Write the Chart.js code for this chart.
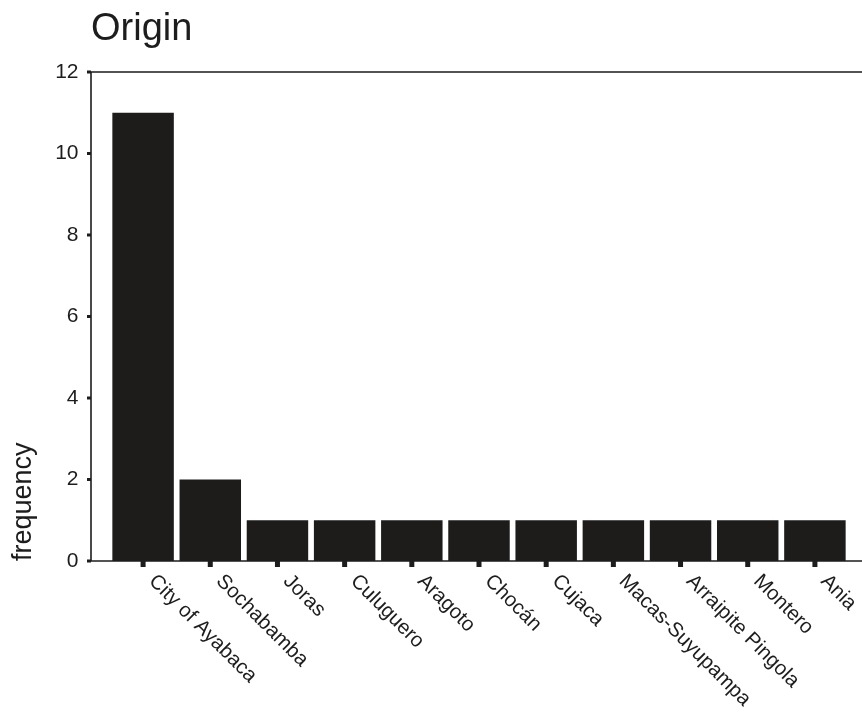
<!DOCTYPE html>
<html>
<head>
<meta charset="utf-8">
<script src="https://cdn.jsdelivr.net/npm/chart.js@4"></script>
<style>
  body { margin: 0; background: #fff; }
</style>
</head>
<body>
<canvas id="myChart" width="862" height="718"></canvas>
<script>
// Data
const places = ['City of Ayabaca', 'Sochabamba', 'Joras', 'Culuguero', 'Aragoto', 'Chocán',
                'Cujaca', 'Macas-Suyupampa', 'Arraipite Pingola', 'Montero', 'Ania'];
const frequency = [11, 2, 1, 1, 1, 1, 1, 1, 1, 1, 1];
const yTicks = [0, 2, 4, 6, 8, 10, 12];

const ink = '#1d1d1d';
const fontName = '"Liberation Sans", Arial, sans-serif';

// Axis lines, tick marks and slanted category labels
const axisDecor = {
    id: 'axisDecor',
    afterLayout(chart) {
        // title sits over the y axis, not at the canvas edge
        chart.titleBlock.left = 91;
    },
    afterDraw(chart) {
        const ctx = chart.ctx;
        const x = chart.scales.x;
        const y = chart.scales.y;
        const axisX = 91;
        const bottom = y.getPixelForValue(0);
        const top = y.getPixelForValue(12);

        ctx.save();
        ctx.strokeStyle = ink;
        ctx.fillStyle = ink;
        ctx.lineWidth = 1.6;
        ctx.beginPath();
        ctx.moveTo(axisX, top);
        ctx.lineTo(axisX, bottom);
        ctx.moveTo(axisX, top);
        ctx.lineTo(chart.width, top);
        ctx.moveTo(axisX, bottom);
        ctx.lineTo(chart.width, bottom);
        ctx.stroke();

        // y tick marks
        yTicks.forEach(v => {
            const py = y.getPixelForValue(v);
            ctx.fillRect(axisX - 4, py - 1.5, 4, 3);
        });

        // x tick marks and labels
        ctx.font = '20.5px ' + fontName;
        ctx.textAlign = 'left';
        ctx.textBaseline = 'middle';
        places.forEach((name, i) => {
            const px = x.getPixelForValue(i);
            ctx.fillRect(px - 2.5, bottom, 5, 6);
            ctx.save();
            ctx.translate(px + 9, bottom + 17);
            ctx.rotate(Math.PI / 4);
            ctx.fillText(name, 0, 0);
            ctx.restore();
        });
        ctx.restore();
    }
};

const data = {
    labels: places,
    datasets: [{
        label: 'frequency',
        data: frequency,
        backgroundColor: '#1e1c1a',
        borderWidth: 0,
        barPercentage: 0.915,
        categoryPercentage: 1
    }]
};

const config = {
    type: 'bar',
    data,
    options: {
        responsive: false,
        animation: false,
        layout: { padding: { left: 0, right: 13.5, top: 0, bottom: 0 } },
        plugins: {
            legend: { display: false },
            tooltip: { enabled: false },
            title: {
                display: true,
                text: 'Origin',
                align: 'start',
                color: ink,
                font: { family: fontName, size: 38, weight: 'normal' },
                padding: { top: 7, bottom: 19.4 }
            }
        },
        scales: {
            x: {
                grid: { display: false },
                border: { display: false },
                ticks: { display: false },
                afterFit(scale) { scale.height = 157; }
            },
            y: {
                min: 0,
                max: 12,
                grid: { display: false, drawTicks: false },
                border: { display: false },
                ticks: {
                    stepSize: 2,
                    padding: 31,
                    color: ink,
                    font: { family: fontName, size: 21 }
                },
                title: {
                    display: true,
                    text: 'frequency',
                    align: 'start',
                    color: ink,
                    font: { family: fontName, size: 27 },
                    padding: { top: 7, bottom: 0 }
                },
                afterFit(scale) { scale.width = 109.5; }
            }
        }
    },
    plugins: [axisDecor]
};

const myChart = new Chart(document.getElementById('myChart'), config);
</script>
</body>
</html>
